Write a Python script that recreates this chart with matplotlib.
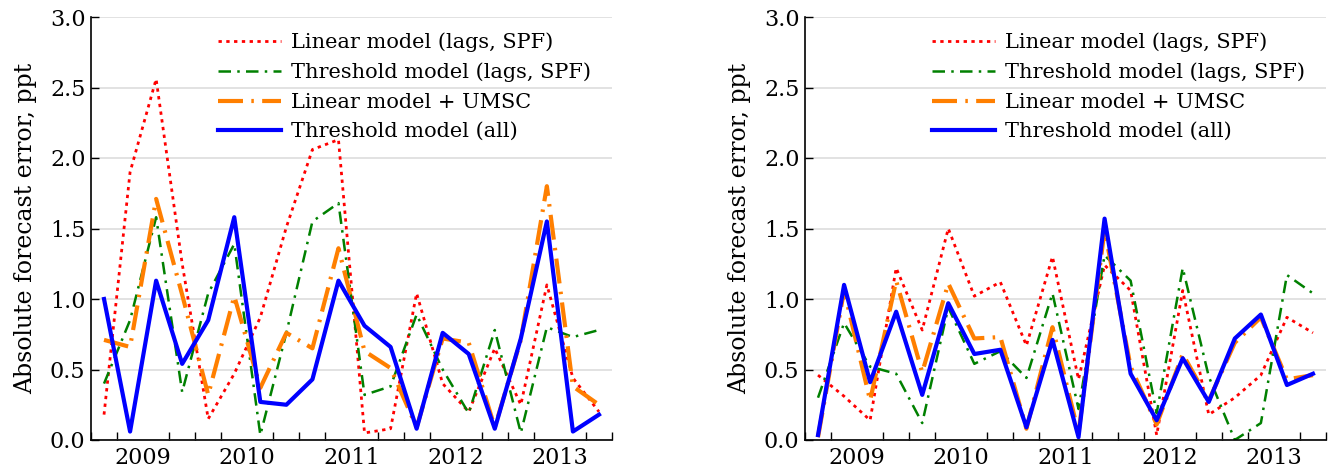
import matplotlib
matplotlib.use("Agg")
import matplotlib.pyplot as plt
from matplotlib.ticker import MultipleLocator, FixedLocator, FormatStrFormatter

plt.rcParams['font.family'] = ['DejaVu Serif', 'DejaVu Sans']

# quarterly observations 2009Q1 .. 2013Q4 (plotted at mid-quarter)
years = [2009, 2010, 2011, 2012, 2013]
quarters = [y + (q + 0.5) / 4 for y in years for q in range(4)]

labels = ["Linear model (lags, SPF)", "Threshold model (lags, SPF)",
          "Linear model + UMSC", "Threshold model (all)"]

left_linear = [0.18, 1.90, 2.56, 1.25, 0.15, 0.47, 0.87, 1.51, 2.06, 2.13,
               0.05, 0.08, 1.04, 0.40, 0.20, 0.65, 0.25, 1.10, 0.44, 0.20]
left_thresh = [0.40, 0.85, 1.58, 0.34, 1.04, 1.39, 0.035, 0.76, 1.55, 1.68,
               0.32, 0.38, 0.89, 0.50, 0.19, 0.78, 0.05, 0.80, 0.73, 0.78]
left_umsc = [0.71, 0.66, 1.71, 1.03, 0.32, 1.02, 0.37, 0.76, 0.65, 1.36,
             0.63, 0.51, 0.09, 0.72, 0.69, 0.09, 0.71, 1.80, 0.38, 0.25]
left_all = [1.00, 0.06, 1.13, 0.54, 0.85, 1.58, 0.27, 0.25, 0.43, 1.13,
            0.81, 0.66, 0.08, 0.76, 0.61, 0.08, 0.72, 1.55, 0.06, 0.18]

right_linear = [0.46, 0.31, 0.14, 1.22, 0.78, 1.50, 1.02, 1.12, 0.67, 1.30,
                0.43, 1.24, 1.06, 0.035, 1.06, 0.18, 0.30, 0.46, 0.87, 0.76]
right_thresh = [0.30, 0.83, 0.52, 0.47, 0.12, 0.94, 0.54, 0.63, 0.44, 1.04,
                0.22, 1.31, 1.13, 0.19, 1.22, 0.45, 0.00, 0.12, 1.17, 1.04]
right_umsc = [0.02, 1.06, 0.28, 1.13, 0.48, 1.11, 0.72, 0.73, 0.08, 0.80,
              0.05, 1.49, 0.52, 0.11, 0.61, 0.28, 0.69, 0.87, 0.43, 0.46]
right_all = [0.035, 1.10, 0.41, 0.91, 0.32, 0.97, 0.61, 0.64, 0.09, 0.71,
             0.02, 1.57, 0.47, 0.14, 0.58, 0.27, 0.72, 0.89, 0.39, 0.47]

styles = [
    dict(color='#ff0000', lw=2.0, linestyle=(0, (1.2, 1.6))),
    dict(color='#008000', lw=1.8, linestyle=(0, (5, 2.5, 1, 2.5))),
    dict(color='#ff7f00', lw=3.0, linestyle=(0, (6, 2, 0.6, 2))),
    dict(color='#0000ff', lw=3.0, linestyle='-'),
]

fig = plt.figure(figsize=(13.3, 4.67), dpi=100)
ax1 = fig.add_axes([91/1330, 1-440/467, (612-91)/1330, (440-17)/467])
ax2 = fig.add_axes([805/1330, 1-440/467, (1326-805)/1330, (440-17)/467])

for ax, series in [(ax1, [left_linear, left_thresh, left_umsc, left_all]),
                   (ax2, [right_linear, right_thresh, right_umsc, right_all])]:
    for s, st, lab in zip(series, styles, labels):
        ax.plot(quarters, s, label=lab, **st)
    ax.set_xlim(2009, 2014)
    ax.set_ylim(0, 3.0)
    ax.yaxis.set_major_locator(MultipleLocator(0.5))
    ax.yaxis.set_major_formatter(FormatStrFormatter('%.1f'))
    ax.xaxis.set_major_locator(FixedLocator([y + 0.5 for y in years]))
    ax.set_xticklabels([str(y) for y in years])
    ax.xaxis.set_minor_locator(MultipleLocator(0.25))
    ax.tick_params(axis='x', which='major', length=0, labelsize=16, pad=5)
    ax.tick_params(axis='x', which='minor', direction='in', length=6, width=1)
    ax.tick_params(axis='y', which='major', direction='in', length=6, width=1,
                   labelsize=16, pad=4)
    ax.grid(axis='y', color='#dddddd', lw=1.2)
    ax.set_axisbelow(True)
    for sp in ['top', 'right']:
        ax.spines[sp].set_visible(False)
    for sp in ['left', 'bottom']:
        ax.spines[sp].set_linewidth(1.2)
    ax.set_ylabel("Absolute forecast error, ppt", fontsize=17, labelpad=9)
    ax.legend(loc='upper left', frameon=False, fontsize=15,
              handlelength=3.0, handletextpad=0.5, labelspacing=0.5,
              borderpad=0, borderaxespad=0,
              bbox_to_anchor=(0.244, 0.963))

fig.savefig("out.png", dpi=100)
